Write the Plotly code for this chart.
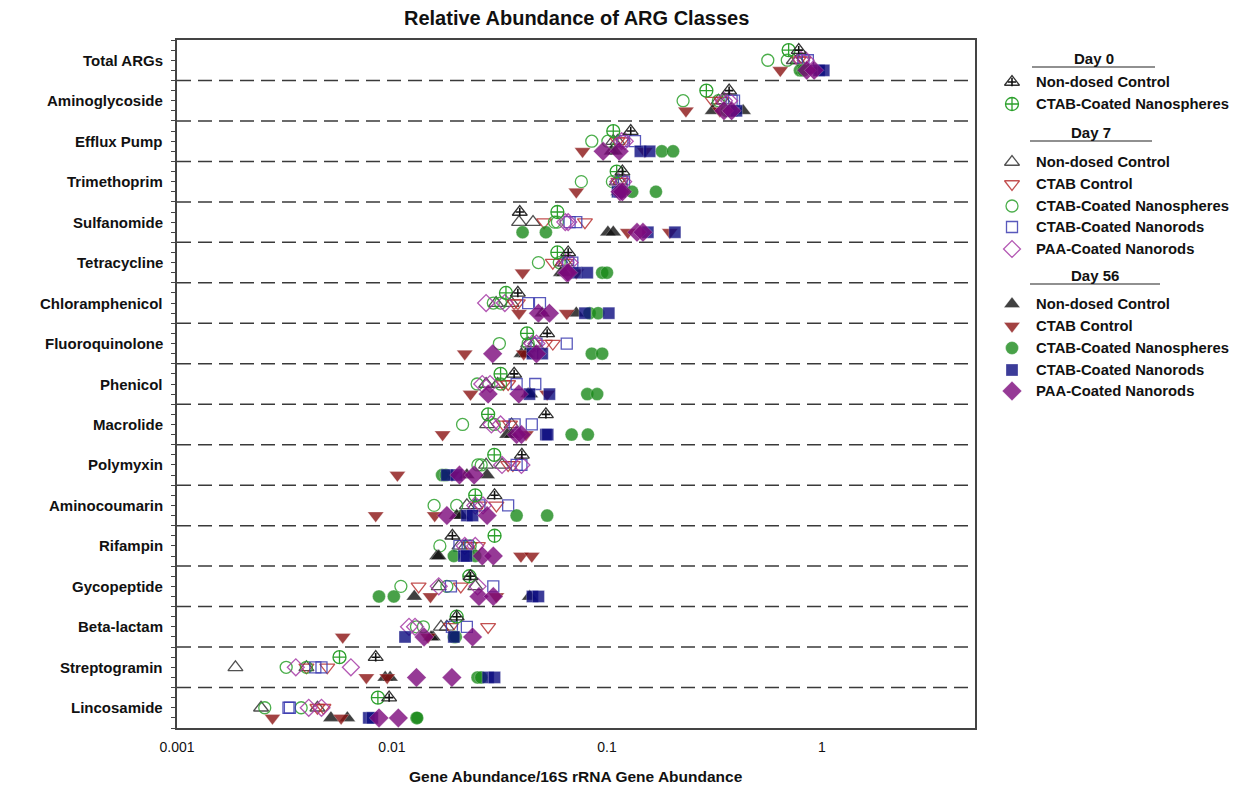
import plotly.graph_objects as go

# ARG classes, top to bottom
categories = ["Total ARGs", "Aminoglycoside", "Efflux Pump", "Trimethoprim", "Sulfanomide",
              "Tetracycline", "Chloramphenicol", "Fluoroquinolone", "Phenicol", "Macrolide",
              "Polymyxin", "Aminocoumarin", "Rifampin", "Gycopeptide", "Beta-lactam",
              "Streptogramin", "Lincosamide"]

# Day 0 (one value per class)
d0_nondosed = [0.78, 0.37, 0.129, 0.118, 0.0393, 0.066, 0.0385, 0.0527, 0.037, 0.052,
               0.0402, 0.030, 0.0191, 0.0232, 0.0200, 0.0084, 0.0097]
d0_spheres = [0.70, 0.29, 0.107, 0.111, 0.0588, 0.0588, 0.0339, 0.0425, 0.032, 0.028,
              0.0299, 0.0244, 0.030, 0.0229, 0.0200, 0.0057, 0.0086]

# Day 7 (replicates per class)
d7_nondosed = [[0.74, 0.77], [0.33, 0.35], [0.107, 0.112], [0.111, 0.115], [0.039, 0.0453],
               [0.062, 0.064], [0.0305, 0.036], [0.043, 0.046], [0.0274, 0.031], [0.0277, 0.036],
               [0.0274, 0.0325], [0.0223, 0.0244], [0.0206, 0.022], [0.0165, 0.0244],
               [0.0169, 0.018], [0.00187, 0.0040], [0.00246, 0.0045]]
d7_ctab = [[0.78, 0.82], [0.31, 0.34], [0.112, 0.117], [0.113, 0.117], [0.051, 0.079],
           [0.056, 0.064], [0.0385, 0.037], [0.0515, 0.056], [0.0347, 0.033], [0.0354, 0.033],
           [0.0347, 0.0365], [0.0306, 0.0255], [0.0251, 0.023], [0.0133, 0.0209],
           [0.0188, 0.028], [0.0040, 0.0050], [0.0045, 0.0048]]
d7_spheres = [[0.56, 0.69], [0.226, 0.33], [0.085, 0.101], [0.076, 0.106], [0.057, 0.0588],
              [0.048, 0.060], [0.0296, 0.032], [0.0316, 0.043], [0.0249, 0.032], [0.0213, 0.0299],
              [0.0251, 0.026], [0.0157, 0.020], [0.0167, 0.0231], [0.0110, 0.0180],
              [0.0130, 0.0140], [0.00322, 0.0040], [0.00256, 0.00378]]
d7_rods = [[0.82, 0.86], [0.38, 0.39], [0.118, 0.135], [0.117, 0.120], [0.067, 0.072],
           [0.066, 0.069], [0.043, 0.0488], [0.047, 0.065], [0.038, 0.0464], [0.0372, 0.0447],
           [0.038, 0.040], [0.0255, 0.0347], [0.0206, 0.0225], [0.0188, 0.0296],
           [0.0190, 0.0223], [0.0044, 0.0047], [0.0033, 0.00335]]
d7_paa = [[0.80, 0.84], [0.35, 0.37], [0.117, 0.121], [0.113, 0.119], [0.064, 0.066],
          [0.064, 0.067], [0.0274, 0.0335], [0.045, 0.047], [0.0263, 0.0286], [0.029, 0.032],
          [0.0325, 0.040], [0.0244, 0.0265], [0.0218, 0.0244], [0.0165, 0.0250],
          [0.0120, 0.0128], [0.00357, 0.00644], [0.0041, 0.0047]]

# Day 56 (replicates per class)
d56_nondosed = [[0.82, 0.86], [0.31, 0.43], [0.105, 0.109], [0.113, 0.116], [0.101, 0.107],
                [0.061, 0.063], [0.050, 0.072], [0.040, 0.042], [0.043, 0.044], [0.0343, 0.036],
                [0.0223, 0.0277], [0.020, 0.021], [0.0162, 0.0165], [0.0127, 0.0437],
                [0.0155, 0.0152], [0.0093, 0.0098], [0.0052, 0.0062]]
d56_ctab = [[0.64, 0.95], [0.233, 0.335], [0.077, 0.150], [0.072, 0.118], [0.125, 0.196],
            [0.0405, 0.072], [0.039, 0.065], [0.0218, 0.041], [0.0232, 0.0527], [0.0172, 0.042],
            [0.0106, 0.019], [0.0084, 0.0158], [0.0398, 0.0447], [0.0151, 0.0306],
            [0.0059, 0.0147], [0.0076, 0.0095], [0.00278, 0.0058]]
d56_spheres = [[0.79, 0.82], [0.36, 0.37], [0.180, 0.203], [0.131, 0.169], [0.0405, 0.052],
               [0.095, 0.100], [0.083, 0.091], [0.085, 0.095], [0.081, 0.090], [0.0685, 0.0815],
               [0.0171, 0.0178], [0.038, 0.0527], [0.0194, 0.0244], [0.0087, 0.0102],
               [0.0194, 0.0198], [0.025, 0.026], [0.013, 0.0131]]
d56_rods = [[0.97, 1.02], [0.38, 0.40], [0.143, 0.158], [0.112, 0.115], [0.155, 0.207],
            [0.072, 0.081], [0.079, 0.102], [0.045, 0.050], [0.0436, 0.054], [0.052, 0.053],
            [0.018, 0.020], [0.0223, 0.0237], [0.0216, 0.0222], [0.045, 0.048],
            [0.0115, 0.0194], [0.028, 0.030], [0.0078, 0.0081]]
d56_paa = [[0.85, 0.92], [0.35, 0.38], [0.096, 0.114], [0.115, 0.118], [0.138, 0.147],
           [0.065, 0.066], [0.048, 0.054], [0.0294, 0.047], [0.028, 0.0389], [0.038, 0.040],
           [0.0206, 0.0241], [0.018, 0.0277], [0.0263, 0.0296], [0.0254, 0.0296],
           [0.0141, 0.0237], [0.013, 0.019], [0.0087, 0.0107]]

FONT = "Liberation Sans, Arial, sans-serif"
W, H = 1240, 789
ML, MR, MT, MB = 177, 5, 40, 61
PLOT_RIGHT = 975
plot_w = W - ML - MR
main_dom = (PLOT_RIGHT - ML) / plot_w
LEG_LEFT = 992
leg_dom = (LEG_LEFT - ML) / plot_w

N = len(categories)
YMAX = 4 * N  # each class occupies 4 sub-rows: divider, day 0, day 7, day 56


def level(i, day):
    return 4 * i + {0: 1, 7: 2, 56: 3}[day]


def flat(groups, day):
    xs, ys = [], []
    for i, vals in enumerate(groups):
        for v in vals:
            xs.append(v)
            ys.append(level(i, day))
    return xs, ys


# style per series: (symbol, size, color, filled)
styles = {
    "d7_nondosed": ("triangle-up-open", 13, "#333333", False),
    "d7_ctab": ("triangle-down-open", 13, "#b83232", False),
    "d7_spheres": ("circle-open", 12, "#2ca02c", False),
    "d7_rods": ("square-open", 11, "#3c3cb0", False),
    "d7_paa": ("diamond-open", 13, "#a63aa6", False),
    "d56_nondosed": ("triangle-up", 14, "#111111", True),
    "d56_ctab": ("triangle-down", 14, "#8b1414", True),
    "d56_spheres": ("circle", 13, "#1b8a1b", True),
    "d56_rods": ("square", 12, "#0c0c80", True),
    "d56_paa": ("diamond", 15, "#7d0a7d", True),
}

fig = go.Figure()


def add_series(xs, ys, key, xaxis="x", yaxis="y"):
    sym, size, col, filled = styles[key]
    if filled:
        marker = dict(symbol=sym, size=size, color=col, opacity=0.8,
                      line=dict(width=0.6, color="rgba(255,255,255,0.5)"))
    else:
        marker = dict(symbol=sym, size=size, color=col, opacity=0.85,
                      line=dict(width=1.3, color=col))
    fig.add_trace(go.Scatter(x=xs, y=ys, mode="markers", marker=marker,
                             xaxis=xaxis, yaxis=yaxis, showlegend=False, hoverinfo="x"))


def add_day0_nondosed(xs, ys, xaxis="x", yaxis="y"):
    fig.add_trace(go.Scatter(x=xs, y=ys, mode="markers", xaxis=xaxis, yaxis=yaxis,
                             marker=dict(symbol="triangle-up-open", size=13, color="#333333",
                                         line=dict(width=1.3, color="#333333")),
                             showlegend=False, hoverinfo="x"))
    fig.add_trace(go.Scatter(x=xs, y=ys, mode="markers", xaxis=xaxis, yaxis=yaxis,
                             marker=dict(symbol="cross-thin-open", size=6, color="#111111",
                                         line=dict(width=1.6, color="#111111")),
                             showlegend=False, hoverinfo="skip"))


def add_day0_spheres(xs, ys, xaxis="x", yaxis="y"):
    fig.add_trace(go.Scatter(x=xs, y=ys, mode="markers", xaxis=xaxis, yaxis=yaxis,
                             marker=dict(symbol="circle-cross-open", size=13, color="#2ca02c",
                                         line=dict(width=1.3, color="#2ca02c")),
                             showlegend=False, hoverinfo="x"))


# Day 7 (open markers)
for key, data in [("d7_nondosed", d7_nondosed), ("d7_ctab", d7_ctab),
                  ("d7_spheres", d7_spheres), ("d7_rods", d7_rods), ("d7_paa", d7_paa)]:
    xs, ys = flat(data, 7)
    add_series(xs, ys, key)

# Day 0
add_day0_spheres(d0_spheres, [level(i, 0) for i in range(N)])
add_day0_nondosed(d0_nondosed, [level(i, 0) for i in range(N)])

# Day 56 (filled markers)
for key, data in [("d56_nondosed", d56_nondosed), ("d56_ctab", d56_ctab),
                  ("d56_spheres", d56_spheres), ("d56_rods", d56_rods), ("d56_paa", d56_paa)]:
    xs, ys = flat(data, 56)
    add_series(xs, ys, key)

# dashed dividers between classes
shapes = []
for i in range(1, N):
    shapes.append(dict(type="line", xref="x domain", yref="y", x0=0, x1=1,
                       y0=4 * i, y1=4 * i,
                       line=dict(color="#3a3a3a", width=1.5, dash="14px,7px")))

annotations = []
for i, c in enumerate(categories):
    annotations.append(dict(text=f"<b>{c}</b>", x=0, xref="paper", y=level(i, 7), yref="y",
                            xanchor="right", yanchor="middle", xshift=-12, showarrow=False,
                            font=dict(family=FONT, size=15, color="#111111")))

annotations.append(dict(text="<b>Relative Abundance of ARG Classes</b>",
                        x=(576 - ML) / plot_w, xref="paper", y=1, yref="paper",
                        yshift=22, xanchor="center", yanchor="middle", showarrow=False,
                        font=dict(family=FONT, size=20, color="#111111")))
annotations.append(dict(text="<b>Gene Abundance/16S rRNA Gene Abundance</b>",
                        x=(576 - ML) / plot_w, xref="paper", y=0, yref="paper",
                        yshift=-48, xanchor="center", yanchor="middle", showarrow=False,
                        font=dict(family=FONT, size=15.5, color="#111111")))

# legend, drawn on its own pixel-scaled axes
legend_sections = [
    ("Day 0", 58, 67, 1032, 1155, [("d0_nondosed", "Non-dosed Control", 82),
                                    ("d0_spheres", "CTAB-Coated Nanospheres", 104)]),
    ("Day 7", 132, 141, 1030, 1152, [("d7_nondosed", "Non-dosed Control", 162),
                                      ("d7_ctab", "CTAB Control", 184),
                                      ("d7_spheres", "CTAB-Coated Nanospheres", 206),
                                      ("d7_rods", "CTAB-Coated Nanorods", 227),
                                      ("d7_paa", "PAA-Coated Nanorods", 249)]),
    ("Day 56", 275, 284, 1030, 1160, [("d56_nondosed", "Non-dosed Control", 304),
                                       ("d56_ctab", "CTAB Control", 326),
                                       ("d56_spheres", "CTAB-Coated Nanospheres", 348),
                                       ("d56_rods", "CTAB-Coated Nanorods", 370),
                                       ("d56_paa", "PAA-Coated Nanorods", 391)]),
]
MX, TX = 1012, 1034
for head, hy, uy, ux0, ux1, items in legend_sections:
    annotations.append(dict(text=f"<b>{head}</b>", x=(ux0 + ux1) / 2, xref="x2", y=hy, yref="y2",
                            xanchor="center", yanchor="middle", showarrow=False,
                            font=dict(family=FONT, size=15, color="#111111")))
    shapes.append(dict(type="line", xref="x2", yref="y2", x0=ux0, x1=ux1, y0=uy, y1=uy,
                       line=dict(color="#222222", width=1.2)))
    for key, label, iy in items:
        if key == "d0_nondosed":
            add_day0_nondosed([MX], [iy], "x2", "y2")
        elif key == "d0_spheres":
            add_day0_spheres([MX], [iy], "x2", "y2")
        else:
            add_series([MX], [iy], key, "x2", "y2")
        annotations.append(dict(text=f"<b>{label}</b>", x=TX, xref="x2", y=iy, yref="y2",
                                xanchor="left", yanchor="middle", showarrow=False,
                                font=dict(family=FONT, size=14.8, color="#111111")))

fig.update_layout(
    width=W, height=H,
    margin=dict(l=ML, r=MR, t=MT, b=MB),
    paper_bgcolor="white", plot_bgcolor="white",
    font=dict(family=FONT, color="#111111"),
    showlegend=False,
    shapes=shapes,
    annotations=annotations,
    xaxis=dict(type="log", domain=[0, main_dom], range=[-3, 0.712],
               tickvals=[0.001, 0.01, 0.1, 1], ticktext=["0.001", "0.01", "0.1", "1"],
               ticks="outside", ticklen=5, tickcolor="rgba(0,0,0,0)",
               showgrid=False, zeroline=False,
               showline=True, linecolor="#444444", linewidth=1.5, mirror=True,
               tickfont=dict(family=FONT, size=14, color="#111111")),
    yaxis=dict(range=[YMAX, 0], domain=[0, 1], tickvals=list(range(0, YMAX + 1)),
               showticklabels=False, ticks="outside", ticklen=4, tickwidth=1,
               tickcolor="#444444", showgrid=False, zeroline=False,
               showline=True, linecolor="#444444", linewidth=1.5, mirror=True),
    xaxis2=dict(domain=[leg_dom, 1], range=[LEG_LEFT, W - MR], anchor="y2",
                visible=False, fixedrange=True),
    yaxis2=dict(domain=[0, 1], range=[H - MB, MT], anchor="x2",
                visible=False, fixedrange=True),
)

fig.write_html("out.html")
